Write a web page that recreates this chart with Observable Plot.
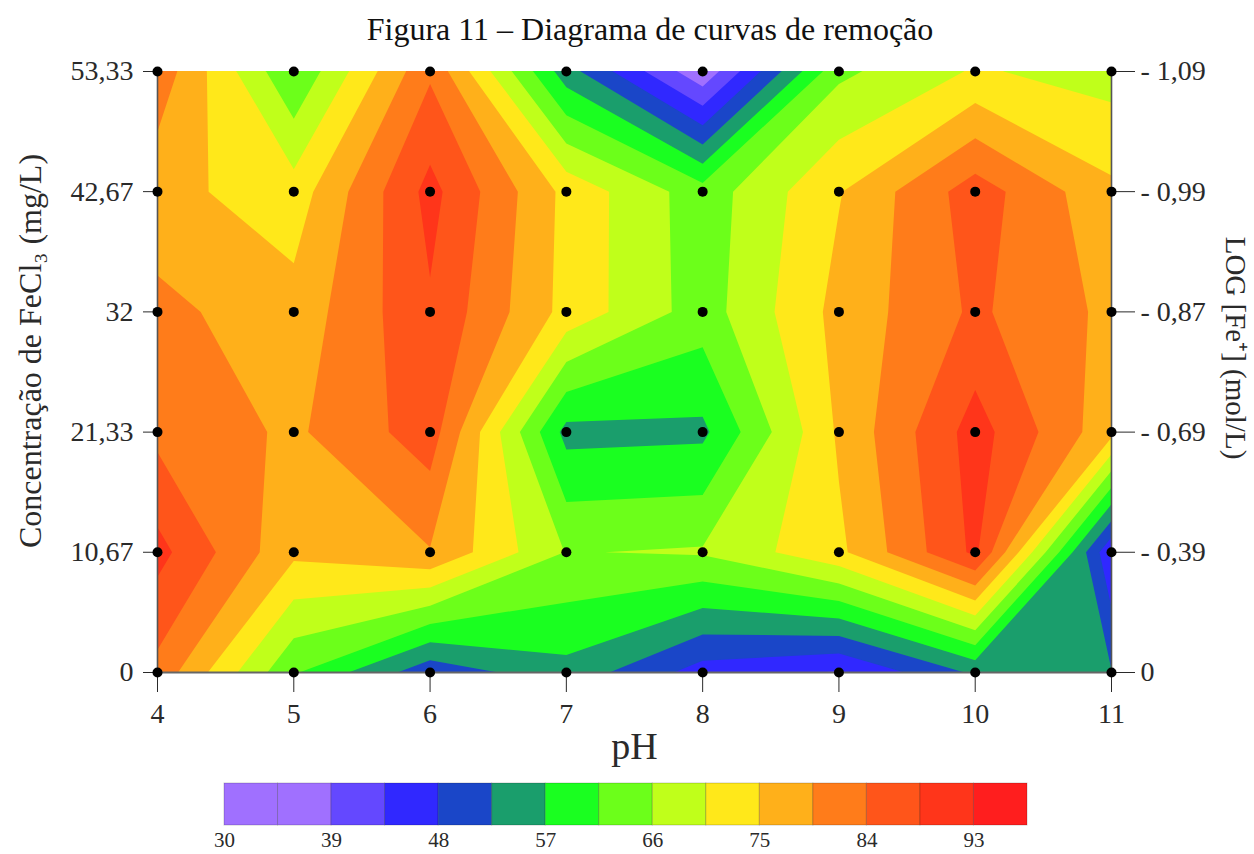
<!DOCTYPE html>
<html>
<head>
<meta charset="utf-8">
<script src="https://cdn.jsdelivr.net/npm/d3@7"></script>
<script src="https://cdn.jsdelivr.net/npm/@observablehq/plot@0.6"></script>
<style>
html,body{margin:0;padding:0;background:#fff;overflow:hidden}
#title{height:50px;padding-left:46px;text-align:center;font:32px/58px "Liberation Serif",serif;color:#111;box-sizing:border-box;width:1254px}
svg{display:block}
</style>
</head>
<body>
<div id="title">Figura 11 – Diagrama de curvas de remoção</div>
<div id="chart"></div>
<div id="legend"></div>
<script>
const pH = [4, 5, 6, 7, 8, 9, 10, 11];
const conc = [53.33, 42.67, 32, 21.33, 10.67, 0];
const concLabels = ["53,33", "42,67", "32", "21,33", "10,67", "0"];
const logLabels = ["- 1,09", "- 0,99", "- 0,87", "- 0,69", "- 0,39", "0"];
// Removal (%) per concentration row, top to bottom, across pH 4..11
const row5333 = [82.5, 61.8, 83.3, 54.5, 35.5, 65.0, 71.0, 68.6];
const row4267 = [76.5, 72.5, 90.0, 73.7, 63.5, 74.7, 86.3, 76.0];
const row3200 = [80.8, 76.7, 87.9, 73.5, 63.8, 76.5, 84.8, 78.4];
const row2133 = [82.8, 78.7, 86.3, 55.5, 56.0, 75.7, 90.5, 76.5];
const row1067 = [90.0, 76.0, 79.2, 65.8, 66.5, 74.0, 89.5, 44.0];
const row0000 = [82.6, 62.0, 49.5, 55.5, 46.0, 43.1, 53.3, 52.7];
const thresholds = [30, 34.5, 39, 43.5, 48, 52.5, 57, 61.5, 66, 70.5, 75, 79.5, 84, 88.5, 93];
const bandColors = ["#a070ff","#a070ff","#6448ff","#3028ff","#1a46c8","#1a9e6c","#1aff20","#6cff1a","#c0ff1a","#ffe81a","#ffb01a","#ff7c1a","#ff551a","#ff351a","#ff1e1e"];
const legendLabels = [30, 39, 48, 57, 66, 75, 84, 93];

const serif = '"Liberation Serif", serif';
const ink = "#2a2a2a";
const values = [...row5333, ...row4267, ...row3200, ...row2133, ...row1067, ...row0000];
const dy = 53.33 / 5 / 2;
const points = conc.flatMap(c => pH.map(p => ({p, c})));
const tickText = (arr) => (d) => arr[conc.indexOf(d)];

const chart = Plot.plot({
  width: 1254, height: 730,
  marginTop: 21, marginBottom: 108, marginLeft: 157, marginRight: 143,
  style: {fontFamily: serif, background: "white"},
  x: {domain: [4, 11]},
  y: {domain: [0, 53.33]},
  color: {type: "threshold", domain: thresholds.slice(1), range: bandColors},
  marks: [
    Plot.contour(values, {width: 8, height: 6, x1: 3.5, x2: 11.5, y1: 53.33 + dy, y2: -dy,
      fill: Plot.identity, thresholds, stroke: "none", clip: true}),
    Plot.ruleX([4, 11], {stroke: "#555", strokeWidth: 1.6}),
    Plot.ruleY([0], {stroke: "#666", strokeWidth: 2}),
    Plot.axisX({ticks: pH, tickSize: 20, tickPadding: 11, fontSize: 28, stroke: ink, fill: ink, label: null, tickFormat: d => String(d)}),
    Plot.axisY({anchor: "left", ticks: conc, tickSize: 14, tickPadding: 10, fontSize: 28, stroke: ink, fill: ink, label: null, tickFormat: tickText(concLabels)}),
    Plot.axisY({anchor: "right", ticks: conc, tickSize: 23, tickPadding: 6, fontSize: 28, stroke: ink, fill: ink, label: null, tickFormat: tickText(logLabels)}),
    Plot.dot(points, {x: "p", y: "c", r: 5, fill: "black", stroke: "none"}),
    Plot.text(["Concentração de FeCl₃ (mg/L)"], {frameAnchor: "left", textAnchor: "middle", rotate: -90, dx: -127, dy: -21, fontSize: 32, fill: ink}),
    Plot.text(["LOG [Fe⁺] (mol/L)"], {frameAnchor: "right", textAnchor: "middle", rotate: 90, dx: 124, dy: -24, fontSize: 29, fill: ink}),
    Plot.text(["pH"], {frameAnchor: "bottom", dy: 86, fontSize: 38, fill: ink})
  ]
});
document.getElementById("chart").appendChild(chart);

const legend = Plot.plot({
  width: 1254, height: 74,
  marginTop: 3, marginBottom: 29, marginLeft: 224, marginRight: 227,
  style: {fontFamily: serif, background: "white"},
  x: {domain: [30, 97.5]},
  y: {axis: null},
  marks: [
    Plot.rectY(thresholds, {x1: d => d, x2: d => d + 4.5, y1: 0, y2: 1, fill: (d, i) => bandColors[i], stroke: "#000", strokeOpacity: 0.2, strokeWidth: 1}),
    Plot.axisX({ticks: legendLabels, tickSize: 0, tickPadding: 7, fontSize: 21, fill: ink, label: null, tickFormat: d => String(d)})
  ]
});
document.getElementById("legend").appendChild(legend);
</script>
</body>
</html>
